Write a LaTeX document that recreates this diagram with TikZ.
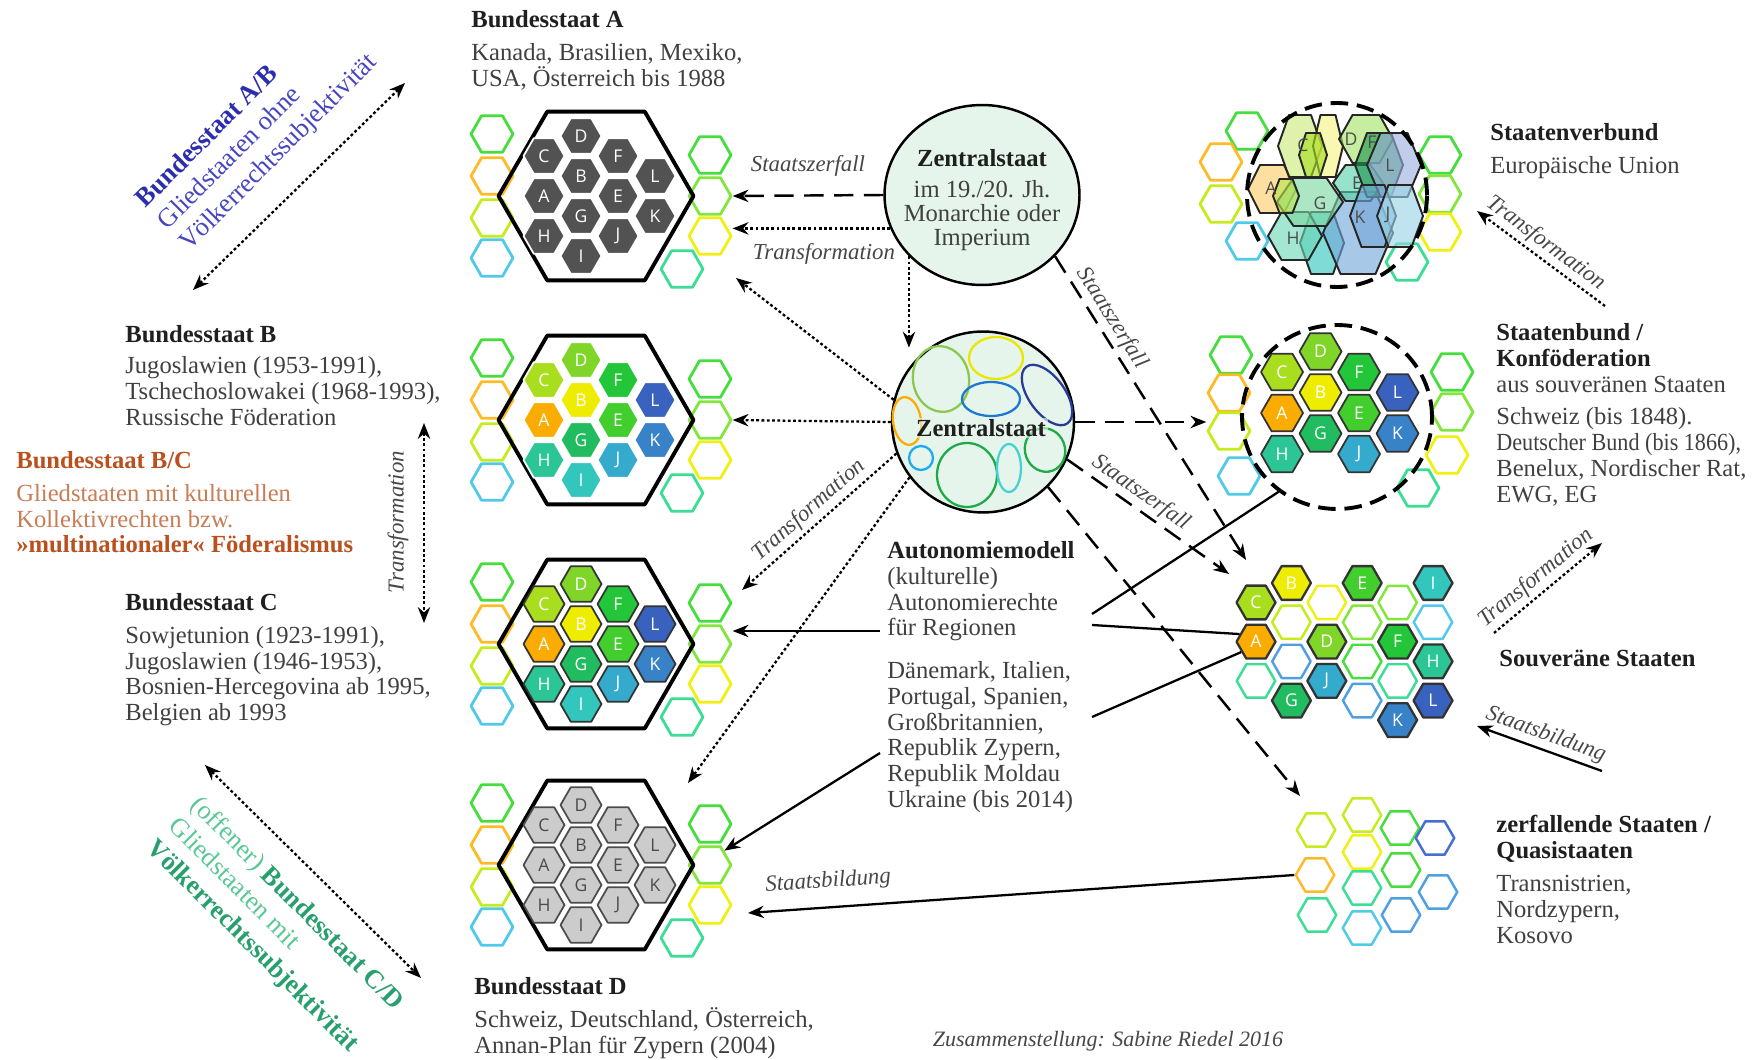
\documentclass[tikz,border=0pt]{standalone}
\usepackage{fontspec}
\setmainfont{Liberation Serif}
\newfontfamily\cellfont{Open Sans}
\usepackage{graphicx}
\usetikzlibrary{calc,shapes.geometric,arrows.meta}

% member state colours
\definecolor{hA}{RGB}{250,172,0}
\definecolor{hB}{RGB}{238,236,0}
\definecolor{hC}{RGB}{168,222,30}
\definecolor{hD}{RGB}{128,214,40}
\definecolor{hE}{RGB}{66,206,44}
\definecolor{hF}{RGB}{34,198,56}
\definecolor{hG}{RGB}{34,188,96}
\definecolor{hH}{RGB}{44,198,150}
\definecolor{hI}{RGB}{50,198,188}
\definecolor{hJ}{RGB}{52,170,204}
\definecolor{hK}{RGB}{56,130,200}
\definecolor{hL}{RGB}{56,98,190}
% ring colours
\definecolor{oGreen}{RGB}{70,222,60}
\definecolor{oLight}{RGB}{130,230,60}
\definecolor{oOrange}{RGB}{255,186,40}
\definecolor{oLime}{RGB}{196,236,30}
\definecolor{oYellow}{RGB}{240,240,20}
\definecolor{oCyan}{RGB}{80,202,232}
\definecolor{oTeal}{RGB}{60,222,150}
\definecolor{oBlue}{RGB}{80,160,225}
\definecolor{oNavy}{RGB}{70,110,210}
% regions inside the central state
\definecolor{eLime}{RGB}{140,200,80}
\definecolor{eYellow}{RGB}{235,230,0}
\definecolor{eNavy}{RGB}{40,60,150}
\definecolor{eBlue}{RGB}{30,120,210}
\definecolor{eSky}{RGB}{30,170,240}
\definecolor{eGreen}{RGB}{30,170,70}
\definecolor{eCyan}{RGB}{70,210,210}
\definecolor{mint}{RGB}{230,245,236}
% text colours
\definecolor{abblue}{RGB}{45,45,175}
\definecolor{abblue2}{RGB}{70,70,195}
\definecolor{bcbrown}{RGB}{185,80,30}
\definecolor{bcbrown2}{RGB}{200,125,85}
\definecolor{cdgreen}{RGB}{40,160,110}
\definecolor{cdgreen2}{RGB}{90,200,150}

\newcommand\ttl[1]{\textbf{\textcolor{black!88}{#1}}}
\newcommand\hexpath[4]{(#1-#3,#2) -- ++(#3/2,-#4) -- ++(#3,0) -- ++(#3/2,#4) -- ++(-#3/2,#4) -- ++(-#3,0) -- cycle}

\tikzset{
   cell/.style={regular polygon, regular polygon sides=6, minimum size=0.82cm, inner sep=0pt,
                line width=1pt, text=white, font=\cellfont\fontsize{10}{10}\selectfont},
   cella/.style={cell, fill=black!68, draw=white},
   cellb/.style={cell, fill=h#1, draw=white},
   cellc/.style={cell, fill=h#1, draw=black!80},
   celld/.style={cell, fill=black!20, draw=black!70, text=black!70},
   cells/.style={cell, fill=h#1, draw=black!80, line width=1.3pt, minimum size=0.78cm},
   ring/.style={regular polygon, regular polygon sides=6, minimum size=0.84cm, inner sep=0pt,
                line width=1.6pt, draw=#1},
   smallring/.style={ring=#1, minimum size=0.77cm, line width=1.4pt},
   frame/.style={regular polygon, regular polygon sides=6, minimum size=3.9cm, draw, line width=2.2pt},
   state node/.style={ellipse, draw, line width=1.4pt, fill=mint},
   union node/.style={ellipse, draw, dash pattern=on 10pt off 5pt, line width=2.2pt},
   txt/.style={align=left, inner sep=0pt, anchor=north west, text=black!75,
               font=\fontsize{14}{14.7}\selectfont},
   lbl/.style={font=\itshape\fontsize{13}{13}\selectfont, text=black!72, inner sep=2pt},
   dashline/.style={line width=1.4pt, dash pattern=on 11pt off 6pt},
   dotline/.style={line width=1.3pt, dash pattern=on 1.6pt off 1.4pt},
   plain/.style={line width=1.3pt}
}

\begin{document}
\begin{tikzpicture}[x=0.02cm, y=-0.02cm, line join=round,
                    >={Stealth[length=9pt,width=7pt]}]
\useasboundingbox (0,0) rectangle (1757,1060);
\fill[white] (0,0) rectangle (1757,1060);

%% federal states A to D
\foreach \g/\cy/\st in {a/196/cella, b/420/cellb, c/644/cellc, d/865/celld}{
  \foreach \n/\dx/\dy/\col in {1/-104/-62/oGreen, 2/-104/-20/oOrange, 3/-104/22/oLime, 4/-104/62/oCyan,
                               5/114/-41/oGreen, 6/114/0/oLight, 7/114/40/oYellow, 8/86/73/oTeal}
    \node[ring=\col] (\g-o\n) at ({596+\dx},{\cy+\dy}) {};
  \node[frame] (\g-frame) at (596,\cy) {};
  \foreach \l/\c/\r in {A/0/0, C/0/-1, H/0/1, D/1/-1.5, B/1/-0.5, G/1/0.5, I/1/1.5,
                        F/2/-1, E/2/0, J/2/1, L/3/-0.5, K/3/0.5}
    \node[\st=\l] (\g-\l) at ({544+37*\c},{\cy+40*\r}) {\l};
}

%% central states
\node[state node, minimum width=3.9cm, minimum height=3.6cm] (zc1) at (982,195) {};
\node[align=center, inner sep=0pt, font=\fontsize{14}{13.6}\selectfont, text=black!75]
  (zc1-text) at (982,200) {\ttl{Zentralstaat}\\[4pt]im 19./20. Jh.\\Monarchie oder\\Imperium};
\node[state node, minimum width=3.64cm, minimum height=3.62cm] (zc2) at (983,422) {};
\foreach \x/\y/\rx/\ry/\a/\col in {941/379/28/33/10/eLime, 996/358/27/21/0/eYellow,
      1047/395/35/18/-54/eNavy, 991/399/29/17/0/eBlue, 907/421/14/24/8/hA, 921/458/12/12/0/eSky,
      967/475/30/32/0/eGreen, 1009/468/12/24/0/eCyan, 1045/450/20/22/20/eGreen}
  \draw[draw=\col, line width=1.3pt, shift={(\x,\y)}, rotate=\a] (0,0) ellipse [x radius=\rx, y radius=\ry];
\node[fill=mint, fill opacity=0.6, text opacity=1, inner sep=1pt, font=\fontsize{14}{14}\selectfont]
  (zc2-text) at (981,428) {\ttl{Zentralstaat}};

%% Staatenverbund
\foreach \n/\x/\y/\col in {1/1247/131/oGreen, 2/1221/162/oOrange, 3/1221/204/oLime, 4/1247/241/oCyan,
                           5/1440/155/oGreen, 6/1440/194/oLight, 7/1440/232/oYellow, 8/1407/262/oTeal}
  \node[ring=\col] (sv-o\n) at (\x,\y) {};
\foreach \x/\y/\rx/\ry/\col in {1322/243/22/31/hI, 1358/233/35/41/hK!70, 1295/236/27/24/hH!70,
      1272/189/24/24/hA!60, 1310/202/33/24/hG!60, 1300/146/22/31/hC!60, 1328/146/15/31/hB!50,
      1313/155/14/22/hC, 1286/196/13/17/hC!80, 1366/139/27/24/hD!70, 1358/183/25/18/hH!80,
      1379/165/24/32/hG!80!black, 1394/165/27/32/hL!50, 1373/216/23/31/hK!70, 1400/216/23/31/hJ!50}
  \filldraw[line width=1.1pt, draw=black!85, fill=\col, fill opacity=0.62] \hexpath{\x}{\y}{\rx}{\ry};
\foreach \l/\x/\y in {A/1271/188, C/1303/145, D/1351/139, F/1372/142, L/1390/165, E/1357/183,
                      G/1320/203, K/1360/217, J/1388/215, H/1293/238}
  \node[font=\cellfont\fontsize{10}{10}\selectfont, text=black!70, inner sep=0pt] (sv-\l) at (\x,\y) {\l};
\node[union node, minimum width=3.6cm, minimum height=3.68cm] (svc) at (1337,195) {};

%% Staatenbund
\foreach \n/\x/\y/\col in {1/1231/355/oGreen, 2/1229/393/oOrange, 3/1229/431/oLime, 4/1239/476/oCyan,
                           5/1452/372/oGreen, 6/1452/412/oLight, 7/1447/455/oYellow, 8/1418/488/oTeal}
  \node[ring=\col] (sb-o\n) at (\x,\y) {};
\foreach \l/\c/\r in {A/0/0, C/0/-1, H/0/1, D/1/-1.5, B/1/-0.5, G/1/0.5,
                      F/2/-1, E/2/0, J/2/1, L/3/-0.5, K/3/0.5}
  \node[cellc=\l, minimum size=0.84cm] (sb-\l) at ({1282+38.5*\c},{413+41*\r}) {\l};
\node[union node, minimum width=3.8cm, minimum height=3.68cm] (sbc) at (1337,417) {};

%% souveraene Staaten
\foreach \n/\c/\r/\col in {1/2/0/oYellow, 2/4/0/oLight, 3/1/1/oLime, 4/3/1/oLight, 5/5/1/oCyan,
                           6/0/2/oTeal, 7/1/2/oBlue, 8/3/2/oGreen, 9/4/2/oTeal, 10/3/3/oBlue}
  \node[smallring=\col] (ss-o\n) at ({1256+35.4*\c},{583+39.2*\r+19.5*(1-mod(\c,2))}) {};
\foreach \l/\c/\r in {C/0/0, B/1/0, E/3/0, I/5/0, A/0/1, D/2/1, F/4/1, J/2/2, H/5/2, G/1/3, K/4/3, L/5/3}
  \node[cells=\l] (ss-\l) at ({1256+35.4*\c},{583+39.2*\r+19.5*(1-mod(\c,2))}) {\l};

%% zerfallende Staaten
\foreach \n/\x/\y/\col in {1/1316/830/oLime, 2/1362/815/oLime, 3/1400/828/oGreen, 4/1435/838/oNavy,
                           5/1362/852/oYellow, 6/1401/870/oGreen, 7/1315/875/oOrange, 8/1362/888/oTeal,
                           9/1438/892/oBlue, 10/1317/915/oTeal, 11/1362/928/oCyan, 12/1401/915/oBlue}
  \node[smallring=\col] (zf-\n) at (\x,\y) {};

%% texts
\node[txt] (bsA) at (471,10) {\ttl{Bundesstaat A}\\[4pt]Kanada, Brasilien, Mexiko,\\USA, Österreich bis 1988};
\node[txt] (bsB) at (125,325) {\ttl{Bundesstaat B}\\[3pt]Jugoslawien (1953-1991),\\Tschechoslowakei (1968-1993),\\Russische Föderation};
\node[txt, text=bcbrown2] (bsBC) at (16,451) {\textbf{\textcolor{bcbrown}{Bundesstaat B/C}}\\[4pt]Gliedstaaten mit kulturellen\\Kollektivrechten bzw.\\\textbf{\textcolor{bcbrown}{»multinationaler« Föderalismus}}};
\node[txt] (bsC) at (125,593) {\ttl{Bundesstaat C}\\[4pt]Sowjetunion (1923-1991),\\Jugoslawien (1946-1953),\\Bosnien-Hercegovina ab 1995,\\Belgien ab 1993};
\node[txt] (bsD) at (474,977) {\ttl{Bundesstaat D}\\[4pt]Schweiz, Deutschland, Österreich,\\Annan-Plan für Zypern (2004)};
\node[txt] (svtxt) at (1490,123) {\ttl{Staatenverbund}\\[4pt]Europäische Union};
\node[txt] (sbtxt) at (1496,323) {\ttl{Staatenbund /}\\\ttl{Konföderation}\\aus souveränen Staaten\\[4pt]Schweiz (bis 1848).\\\scalebox{0.9}[1]{Deutscher Bund (bis 1866),}\\Benelux, Nordischer Rat,\\EWG, EG};
\node[txt] (sstxt) at (1499,650) {\ttl{Souveräne Staaten}};
\node[txt] (zftxt) at (1496,815) {\ttl{zerfallende Staaten /}\\\ttl{Quasistaaten}\\[4pt]Transnistrien,\\Nordzypern,\\Kosovo};
\node[txt] (auto) at (887,541) {\ttl{Autonomiemodell}\\(kulturelle)\\Autonomierechte\\für Regionen};
\node[txt] (examples) at (887,661) {Dänemark, Italien,\\Portugal, Spanien,\\Großbritannien,\\Republik Zypern,\\Republik Moldau\\Ukraine (bis 2014)};
\node[rotate=45, anchor=west, align=left, inner sep=0pt, font=\fontsize{15}{17.5}\selectfont, text=abblue2]
  (ablbl) at (163,226) {\textbf{\textcolor{abblue}{Bundesstaat A/B}}\\Gliedstaaten ohne\\Völkerrechtssubjektivität};
\node[rotate=-45, anchor=west, align=left, inner sep=0pt, font=\fontsize{15}{17.5}\selectfont, text=cdgreen2]
  (cdlbl) at (172,823) {(offener) \textbf{\textcolor{cdgreen}{Bundesstaat C/D}}\\Gliedstaaten mit\\\textbf{\textcolor{cdgreen}{Völkerrechtssubjektivität}}};
\node[lbl, rotate=90] (trlbl) at (398,522) {Transformation};
\node[lbl, font=\itshape\fontsize{12.5}{13}\selectfont] (credit) at (1108,1041) {Zusammenstellung: Sabine Riedel 2016};

%% free arrow ends
\coordinate (tA) at (736,278);
\coordinate (tC) at (742,590);
\coordinate (tD) at (688,783);
\coordinate (tS1) at (1246,560);
\coordinate (tS2) at (1229,574);
\coordinate (tZ) at (1300,796);
\coordinate (tSb) at (748,913);
\coordinate (ab1) at (193,290);
\coordinate (ab2) at (405,83);
\coordinate (tr1) at (424,423);
\coordinate (tr2) at (424,623);
\coordinate (cd1) at (205,765);
\coordinate (cd2) at (421,978);
\coordinate (rt1) at (1605,306);
\coordinate (rt2) at (1477,211);
\coordinate (rt3) at (1494,633);
\coordinate (rt4) at (1602,543);
\coordinate (rt5) at (1602,771);
\coordinate (rt6) at (1477,726);
\coordinate (aw) at ($(auto.north west)+(-7,90)$);

%% connectors
\draw[dashline,->] (zc1.west) -- (a-o6.east) node[lbl, midway, above=8pt] {Staatszerfall};
\draw[dotline,->] (zc1.200) -- (zc1.200 -| a-o7.east) node[lbl, pos=0.42, below=6pt] {Transformation};
\draw[dotline,->] (zc1.220) -- (zc1.220 |- zc2.126);
\path[dotline,->]
  (zc2.166) edge (tA)
  (zc2.west) edge (b-o6.east)
  (zc2.200) edge node[lbl, sloped, above] {Transformation} (tC)
  (zc2.217) edge (tD);
\path[dashline,->]
  (zc2.east) edge (zc2.east -| sb-o3.west)
  (zc1.-40) edge node[lbl, sloped, pos=0.23, above] {Staatszerfall} (tS1)
  (zc2.-24) edge node[lbl, sloped, pos=0.4, above] {Staatszerfall} (tS2)
  (zc2.-45) edge (tZ);
\draw[plain] ($(auto.north west)+(205,73)$) -- (sbc.232);
\draw[plain] ($(auto.north west)+(205,84)$) -- (ss-A.155);
\draw[plain] ($(examples.north west)+(205,56)$) -- (ss-A.215);
\draw[plain,->] (aw) -- (aw -| c-o6.east);
\draw[plain,->] ($(examples.north west)+(-7,92)$) -- (d-o6.north east);
\draw[plain,->] (zf-7.west) -- (tSb) node[lbl, sloped, pos=0.85, above=6pt] {Staatsbildung};
\draw[dotline,<->] (ab1) -- (ab2);
\draw[dotline,<->] (tr1) -- (tr2);
\draw[dotline,<->] (cd1) -- (cd2);
\draw[dotline,->] (rt1) -- (rt2) node[lbl, sloped, pos=0.53, above] {Transformation};
\draw[dotline,->] (rt3) -- (rt4) node[lbl, sloped, pos=0.48, above] {Transformation};
\draw[plain,->] (rt5) -- (rt6) node[lbl, sloped, pos=0.49, above] {Staatsbildung};

\end{tikzpicture}
\end{document}
